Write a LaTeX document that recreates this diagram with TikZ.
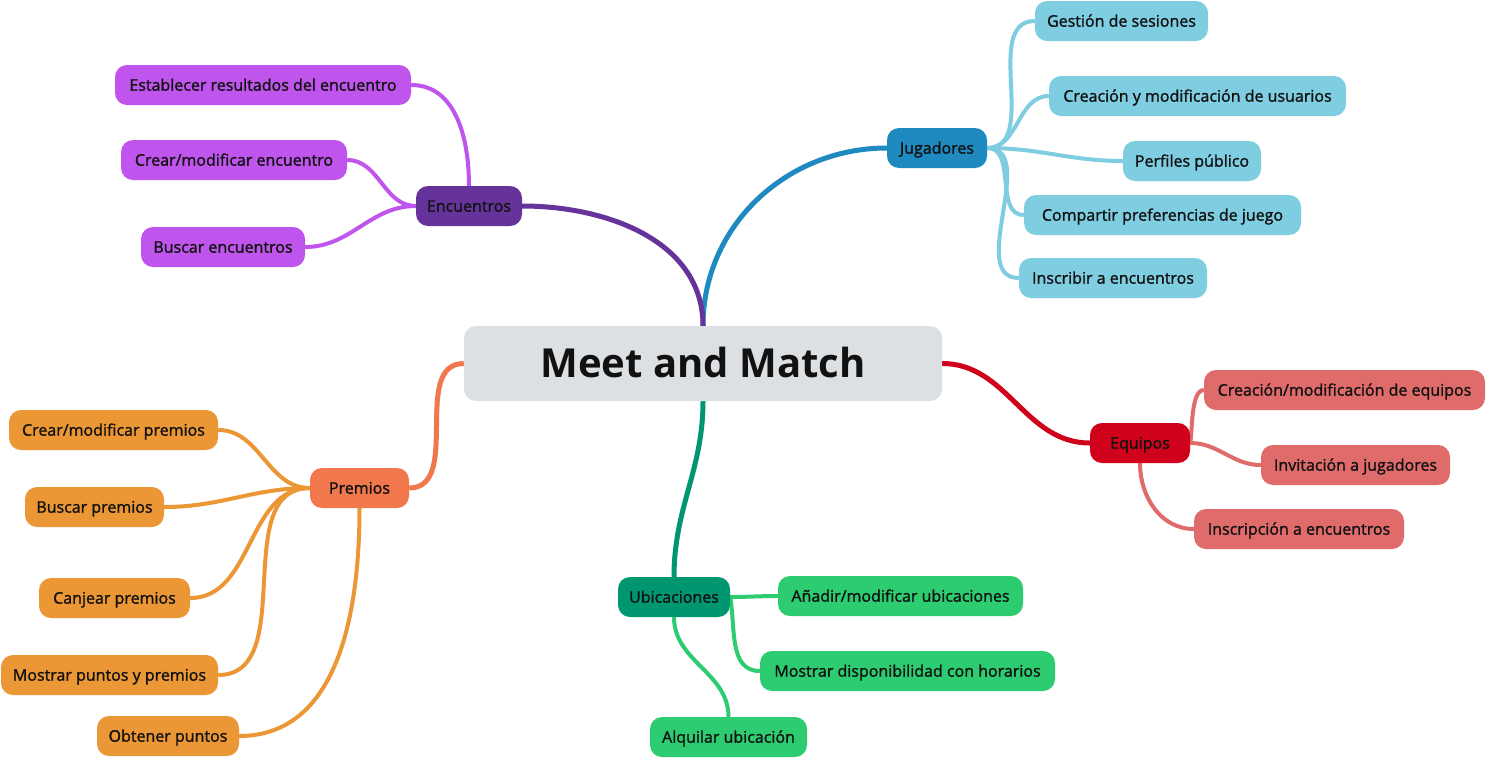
\documentclass[tikz,border=0pt]{standalone}
\usepackage{fontspec}
\setmainfont{Open Sans}
\newfontfamily\semib{Open Sans}[FakeBold=1.3]
\pgfdeclarelayer{bg}
\pgfsetlayers{bg,main}
\definecolor{cgray}{HTML}{DDE0E3}
\definecolor{jug}{HTML}{1F8AC0}
\definecolor{jugc}{HTML}{7FCDE0}
\definecolor{enc}{HTML}{66339A}
\definecolor{encc}{HTML}{BF55EC}
\definecolor{equ}{HTML}{D0021B}
\definecolor{equc}{HTML}{E06B6B}
\definecolor{pre}{HTML}{F0784C}
\definecolor{prec}{HTML}{EC9735}
\definecolor{ubi}{HTML}{00966F}
\definecolor{ubic}{HTML}{2ECC71}
\definecolor{txt}{HTML}{111111}
\tikzset{
  box/.style={rounded corners=12pt, minimum height=40pt, inner sep=0pt, text=txt,
    text height=11.4pt, text depth=0pt, font=\semib\fontsize{16}{19}\selectfont},
  mainline/.style={line width=5pt},
  subline/.style={line width=4pt},
}
\begin{document}
\begin{tikzpicture}[x=1pt,y=-1pt]
\useasboundingbox (0,0) rectangle (1486,758);
\begin{pgfonlayer}{bg}
\fill[white] (0,0) rectangle (1486,758);
\end{pgfonlayer}
% center
\node[box, fill=cgray, minimum width=478pt, minimum height=75pt, text height=28.5pt,
  font=\fontsize{40}{46}\selectfont\bfseries] (c) at (703,363.5) {Meet and Match};
% Jugadores
\node[box, fill=jug, minimum width=100pt] (jug) at (937,148) {Jugadores};
\node[box, fill=jugc, minimum width=173pt] (j1) at (1121.5,21) {Gestión de sesiones};
\node[box, fill=jugc, minimum width=297pt] (j2) at (1197.5,96) {Creación y modificación de usuarios};
\node[box, fill=jugc, minimum width=138pt] (j3) at (1192,161) {Perfiles público};
\node[box, fill=jugc, minimum width=277pt] (j4) at (1162.5,215) {Compartir preferencias de juego};
\node[box, fill=jugc, minimum width=188pt] (j5) at (1113,278) {Inscribir a encuentros};
% Encuentros
\node[box, fill=enc, minimum width=106pt] (enc) at (469,206) {Encuentros};
\node[box, fill=encc, minimum width=296pt] (e1) at (263,85) {Establecer resultados del encuentro};
\node[box, fill=encc, minimum width=226pt] (e2) at (234,160) {Crear/modificar encuentro};
\node[box, fill=encc, minimum width=164pt] (e3) at (223,247) {Buscar encuentros};
% Equipos
\node[box, fill=equ, minimum width=100pt] (equ) at (1140,443) {Equipos};
\node[box, fill=equc, minimum width=281pt] (q1) at (1344.5,390) {Creación/modificación de equipos};
\node[box, fill=equc, minimum width=189pt] (q2) at (1355.5,465) {Invitación a jugadores};
\node[box, fill=equc, minimum width=210pt] (q3) at (1299,529) {Inscripción a encuentros};
% Premios
\node[box, fill=pre, minimum width=99pt] (pre) at (359.5,488) {Premios};
\node[box, fill=prec, minimum width=209pt] (p1) at (113.5,430) {Crear/modificar premios};
\node[box, fill=prec, minimum width=139pt] (p2) at (94.5,507) {Buscar premios};
\node[box, fill=prec, minimum width=151pt] (p3) at (114.5,598) {Canjear premios};
\node[box, fill=prec, minimum width=217pt] (p4) at (109.5,675) {Mostrar puntos y premios};
\node[box, fill=prec, minimum width=142pt] (p5) at (168,736) {Obtener puntos};
% Ubicaciones
\node[box, fill=ubi, minimum width=112pt] (ubi) at (674,597) {Ubicaciones};
\node[box, fill=ubic, minimum width=245pt] (u1) at (900.5,596) {Añadir/modificar ubicaciones};
\node[box, fill=ubic, minimum width=295pt] (u2) at (907.5,671) {Mostrar disponibilidad con horarios};
\node[box, fill=ubic, minimum width=157pt] (u3) at (728.5,737) {Alquilar ubicación};

\begin{pgfonlayer}{bg}
% main branches
\draw[mainline, jug] (c.north) to[out=90,in=180] (jug.west);
\draw[mainline, enc] (c.north) to[out=90,in=0] (enc.east);
\draw[mainline, equ] (c.east) to[out=0,in=180] (equ.west);
\draw[mainline, pre] (c.west) to[out=180,in=0] (pre.east);
\draw[mainline, ubi] (c.south) to[out=-90,in=90] (ubi.north);
% Jugadores children
\draw[subline, jugc] (jug.east) to[out=0,in=180] (j1.west);
\draw[subline, jugc] (jug.east) to[out=0,in=180] (j2.west);
\draw[subline, jugc] (jug.east) to[out=0,in=180] (j3.west);
\draw[subline, jugc] (jug.east) to[out=0,in=180] (j4.west);
\draw[subline, jugc] (jug.east) to[out=0,in=180] (j5.west);
% Encuentros children
\draw[subline, encc] (enc.north) to[out=90,in=0] (e1.east);
\draw[subline, encc] (enc.west) to[out=180,in=0] (e2.east);
\draw[subline, encc] (enc.west) to[out=180,in=0] (e3.east);
% Equipos children
\draw[subline, equc] (equ.east) to[out=80,in=180,looseness=0.6] (q1.west);
\draw[subline, equc] (equ.east) to[out=0,in=180] (q2.west);
\draw[subline, equc] (equ.south) to[out=-90,in=180] (q3.west);
% Premios children
\draw[subline, prec] (pre.west) to[out=180,in=0] (p1.east);
\draw[subline, prec] (pre.west) to[out=180,in=0] (p2.east);
\draw[subline, prec] (pre.west) to[out=180,in=0] (p3.east);
\draw[subline, prec] (pre.west) to[out=180,in=0] (p4.east);
\draw[subline, prec] (pre.south) to[out=-90,in=0] (p5.east);
% Ubicaciones children
\draw[subline, ubic] (ubi.east) to[out=0,in=180] (u1.west);
\draw[subline, ubic] (ubi.east) to[out=-80,in=180] (u2.west);
\draw[subline, ubic] (ubi.south) to[out=-90,in=90] (u3.north);
\end{pgfonlayer}
\end{tikzpicture}
\end{document}
